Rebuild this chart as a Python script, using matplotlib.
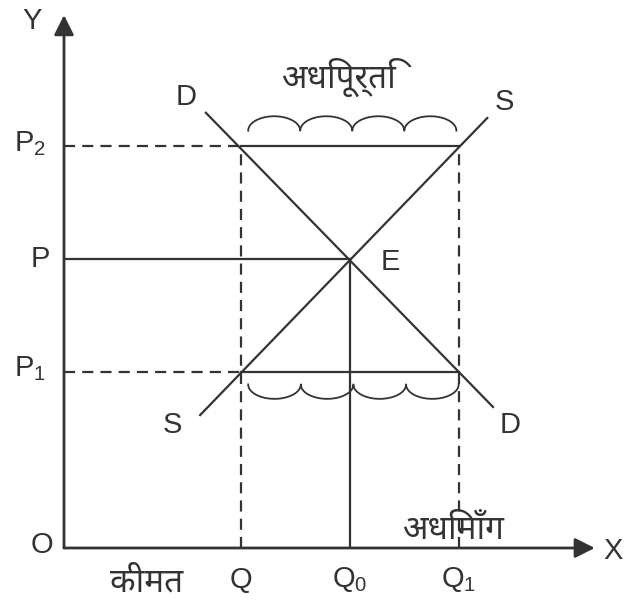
import numpy as np
import matplotlib
matplotlib.use('Agg')
import matplotlib.pyplot as plt
from matplotlib import font_manager
from matplotlib.ft2font import FT2Font

# price levels and quantity levels (chart units)
prices = {'P1': 3.05, 'P': 5.0, 'P2': 6.95}
quantities = {'Q': 3.1, 'Q0': 5.0, 'Q1': 6.9}
# end points of demand and supply curves (q, p)
demand_q = [2.48, 7.5]
demand_p = [7.53, 2.44]
supply_q = [2.38, 7.4]
supply_p = [2.30, 7.44]


def find_devanagari():
    # any installed font that has Devanagari letters
    names = []
    for f in font_manager.fontManager.ttflist:
        try:
            cmap = FT2Font(f.fname).get_charmap()
        except Exception:
            continue
        if 0x0905 in cmap:
            names.append(f.name)
    names = sorted(set(names))
    for pref in ['Noto Sans Devanagari', 'Lohit Devanagari', 'Mukta']:
        if pref in names:
            return pref
    return names[0] if names else 'DejaVu Sans'


deva_family = find_devanagari()

plt.rcParams['font.family'] = ['Liberation Sans', 'DejaVu Sans']
INK = '#333333'

fig = plt.figure(figsize=(6.26, 6.08), dpi=100)
ax = fig.add_axes([64 / 626, 60 / 608, 562 / 626, 548 / 608])
ax.set_xlim(0, 562 / 57.2)
ax.set_ylim(0, 548 / 57.8)
ax.axis('off')

lw = 1.6
dash = (5, 3.2)
P1, P, P2 = prices['P1'], prices['P'], prices['P2']
Q, Q0, Q1 = quantities['Q'], quantities['Q0'], quantities['Q1']

# axes with arrows
for tip in [(0, 9.22), (9.28, 0)]:
    ax.annotate('', xy=tip, xytext=(0, 0),
                arrowprops=dict(arrowstyle='-|>', mutation_scale=30, lw=2, color=INK,
                                shrinkA=0, shrinkB=0))

# curves
ax.plot(demand_q, demand_p, color=INK, lw=lw)
ax.plot(supply_q, supply_p, color=INK, lw=lw)

# guide lines
ax.plot([0, Q], [P2, P2], color=INK, lw=lw, dashes=dash)
ax.plot([Q, Q1], [P2, P2], color=INK, lw=lw)
ax.plot([0, Q0], [P, P], color=INK, lw=lw)
ax.plot([0, Q], [P1, P1], color=INK, lw=lw, dashes=dash)
ax.plot([Q, Q1], [P1, P1], color=INK, lw=lw)
ax.plot([Q, Q], [0, P2], color=INK, lw=lw, dashes=dash)
ax.plot([Q1, Q1], [0, P2], color=INK, lw=lw, dashes=dash)
ax.plot([Q0, Q0], [0, P], color=INK, lw=lw)


def wavy(x0, x1, base, height, n=4):
    edges = np.linspace(x0, x1, n + 1)
    xs, ys = [], []
    for a, b in zip(edges[:-1], edges[1:]):
        t = np.linspace(0, np.pi, 40)
        xs.append((a + b) / 2 - (b - a) / 2 * np.cos(t))
        ys.append(base + height * np.sin(t))
    return np.concatenate(xs), np.concatenate(ys)


xs, ys = wavy(Q + 0.12, Q1 - 0.04, P2 + 0.27, 0.25)
ax.plot(xs, ys, color=INK, lw=1.3)
xs, ys = wavy(Q + 0.12, Q1, P1 - 0.22, -0.25)
ax.plot(xs, ys, color=INK, lw=1.3)

# letters
fs = 21
kw = dict(color=INK, fontsize=fs, ha='center', va='center', clip_on=False)
ax.text(-0.55, 9.12, 'Y', **kw)
ax.text(9.6, -0.05, 'X', **kw)
ax.text(-0.38, 0.05, 'O', **kw)
ax.text(2.14, 7.8, 'D', **kw)
ax.text(7.7, 7.72, 'S', **kw)
ax.text(1.9, 2.12, 'S', **kw)
ax.text(7.8, 2.12, 'D', **kw)
ax.text(5.7, 4.95, 'E', **kw)
ax.text(-0.6, P2 + 0.05, r'$\mathregular{P_2}$', **kw)
ax.text(-0.42, P + 0.0, 'P', **kw)
ax.text(-0.6, P1 + 0.05, r'$\mathregular{P_1}$', **kw)
ax.text(Q, -0.55, 'Q', **kw)
ax.text(Q0, -0.55, r'$\mathregular{Q_0}$', **kw)
ax.text(Q1, -0.55, r'$\mathregular{Q_1}$', **kw)

hkw = dict(color=INK, fontsize=24, ha='center', va='center', clip_on=False,
           family=[deva_family, 'DejaVu Sans'])
ax.text(4.8, 8.15, 'अधिपूर्ति', **hkw)
ax.text(6.8, 0.3, 'अधिमाँग', **hkw)
ax.text(1.45, -0.6, 'कीमत', **hkw)

fig.savefig('out.png', dpi=100)
